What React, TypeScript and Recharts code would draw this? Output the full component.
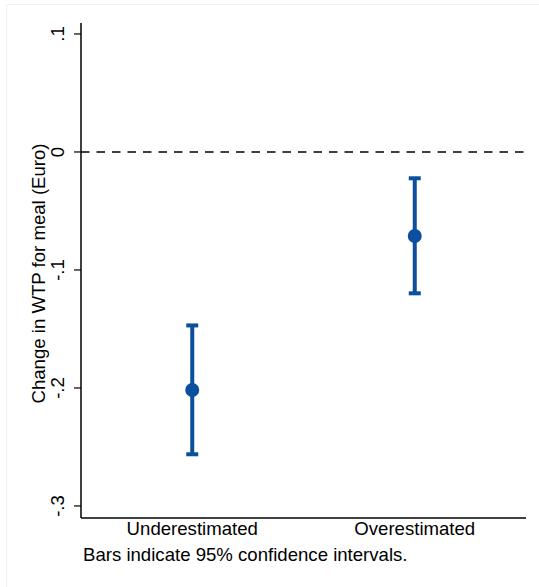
import {
  ScatterChart,
  Scatter,
  XAxis,
  YAxis,
  ReferenceLine,
  ErrorBar,
} from "recharts";

const categories = ["Underestimated", "Overestimated"];
const estimates = [-0.2017, -0.0712];
const ciLow = [-0.2562, -0.1198];
const ciHigh = [-0.147, -0.0223];
const yTicks = [-0.3, -0.2, -0.1, 0, 0.1];

const BLUE = "#0b4f9e";
const FONT = "'Liberation Sans', Arial, sans-serif";
const FS = 18.6;

const data = categories.map((name, i) => ({
  name,
  est: estimates[i],
  err: [estimates[i] - ciLow[i], ciHigh[i] - estimates[i]],
}));

// Stata-style tick labels: ".1", "-.2", rotated
const fmt = (v: number) => {
  if (Math.abs(v) < 1e-9) return "0";
  const s = String(Math.round(v * 10) / 10);
  return s.replace("0.", ".");
};

const YTick = (props: any) => {
  const { x, y, payload } = props;
  const bx = x - 8;
  return (
    <text
      x={bx}
      y={y}
      transform={`rotate(-90, ${bx}, ${y})`}
      textAnchor="middle"
      fontSize={FS}
      fontFamily={FONT}
      fill="#000"
    >
      {fmt(payload.value)}
    </text>
  );
};

const XTick = (props: any) => {
  const { x, y, payload } = props;
  return (
    <text
      x={x}
      y={y + 9}
      textAnchor="middle"
      fontSize={FS}
      fontFamily={FONT}
      fill="#000"
    >
      {payload.value}
    </text>
  );
};

export default function App() {
  return (
    <div
      style={{
        position: "absolute",
        left: 0,
        top: 0,
        width: 539,
        height: 587,
        background: "#fff",
      }}
    >
      <div
        style={{
          position: "absolute",
          left: 6,
          top: 4,
          width: 540,
          height: 600,
          borderTop: "1px solid #eef2f2",
          borderLeft: "1px solid #eef2f2",
        }}
      />
      <ScatterChart
        width={539}
        height={587}
        margin={{ top: 23, right: 13, bottom: 39, left: 0 }}
        style={{ position: "absolute", left: 0, top: 0 }}
      >
        <XAxis
          dataKey="name"
          type="category"
          allowDuplicatedCategory={false}
          tickLine={false}
          axisLine={{ stroke: "#000", strokeWidth: 1.5 }}
          tick={<XTick />}
          height={30}
          interval={0}
        />
        <YAxis
          dataKey="est"
          type="number"
          domain={[-0.3102, 0.1093]}
          allowDataOverflow
          ticks={yTicks}
          width={81}
          axisLine={{ stroke: "#000", strokeWidth: 1.5 }}
          tickLine={{ stroke: "#000", strokeWidth: 1.2 }}
          tickSize={7}
          tick={<YTick />}
          label={{
            content: (p: any) => {
              const vb = p.viewBox;
              const cx = 45;
              const cy = vb.y + vb.height / 2 + 3;
              return (
                <text
                  x={cx}
                  y={cy}
                  transform={`rotate(-90, ${cx}, ${cy})`}
                  textAnchor="middle"
                  fontSize={FS}
                  fontFamily={FONT}
                  fill="#000"
                >
                  Change in WTP for meal (Euro)
                </text>
              );
            },
          }}
        />
        <ReferenceLine
          y={0}
          stroke="#000"
          strokeWidth={1.5}
          strokeDasharray="8.5 7"
        />
        <Scatter
          data={data}
          fill={BLUE}
          isAnimationActive={false}
          shape={(p: any) => (
            <circle cx={p.cx} cy={p.cy} r={7} fill={BLUE} />
          )}
        >
          <ErrorBar
            dataKey="err"
            direction="y"
            width={6}
            stroke={BLUE}
            strokeWidth={4}
            isAnimationActive={false}
          />
        </Scatter>
      </ScatterChart>
      <div
        style={{
          position: "absolute",
          left: 83,
          top: 544,
          fontSize: FS,
          fontFamily: FONT,
          color: "#000",
          whiteSpace: "nowrap",
        }}
      >
        Bars indicate 95% confidence intervals.
      </div>
    </div>
  );
}
